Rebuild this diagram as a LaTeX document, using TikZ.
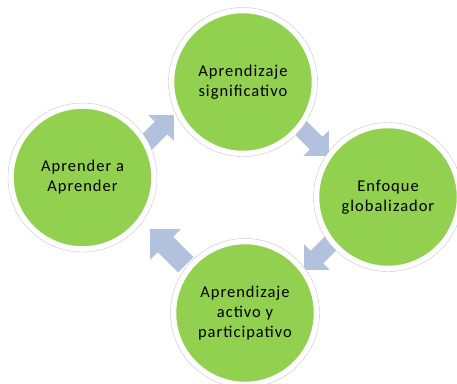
\documentclass[tikz,border=0pt]{standalone}
\usepackage{fontspec}
\setmainfont{Carlito}[LetterSpace=6]
\usepackage{tikz}

\definecolor{leafgreen}{RGB}{146,208,80}
\definecolor{arrowblue}{RGB}{178,193,222}

\begin{document}
\begin{tikzpicture}[x=1pt, y=-1pt, every node/.style={font=\fontsize{16.5}{20}\selectfont}, idea/.style={circle, fill=leafgreen, draw=white, line width=3.5pt, minimum size=141pt, inner sep=0pt, align=center, text=black}, ring/.style={fill=white, draw=black!22, line width=0.4pt}, flow/.style={fill=arrowblue, draw=none}]
	\useasboundingbox (0,0) rectangle (457,383);
	% block arrows, clockwise, under the circles
	\foreach \c/\a/\s in {{159,130}/45/1, {314,141}/-45/1, {319,255}/-135/1, {168,247}/135/1.2} {\fill[flow, shift={(\c)}, rotate=\a, scale=\s] (-21,-9) -- (3,-9) -- (3,-18) -- (21,0) -- (3,18) -- (3,9) -- (-21,9) -- cycle;}
	% circles
	\foreach \n/\c/\l in {sig/{243,82}/{Aprendizaje\\significativo}, glo/{388,197}/{Enfoque\\globalizador}, act/{245,313}/{Aprendizaje\\activo y\\participativo}, apr/{82.5,177.5}/{Aprender a\\Aprender}} {
		\filldraw[ring] (\c) circle (74.5);
		\node[idea] (\n) at (\c) {\l};
	}
\end{tikzpicture}
\end{document}
